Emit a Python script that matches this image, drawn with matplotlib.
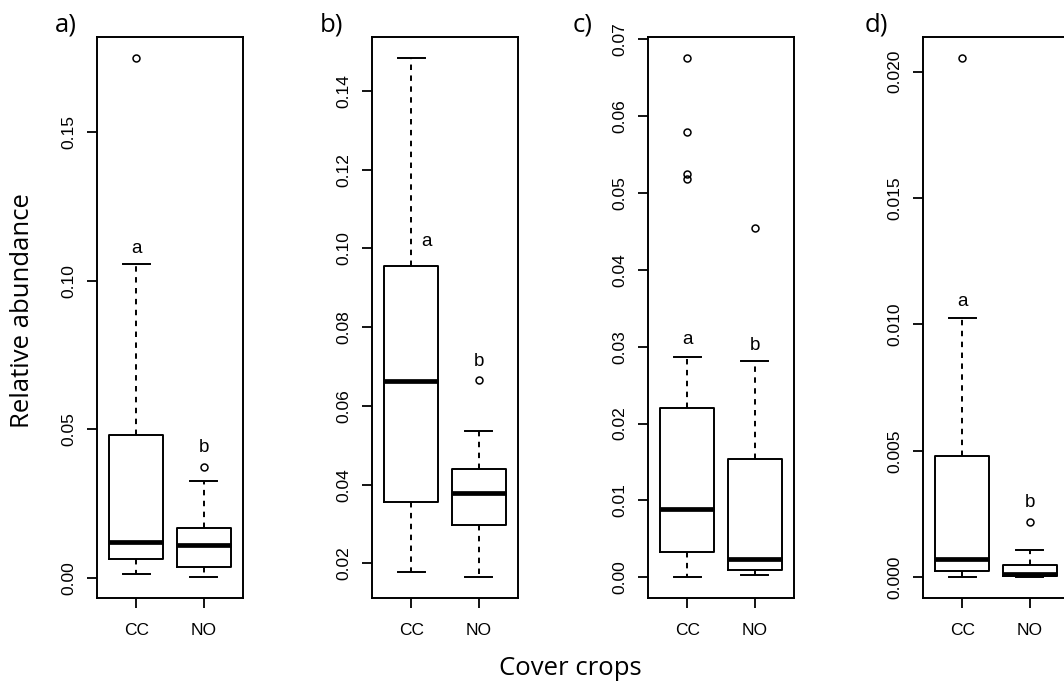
import matplotlib
matplotlib.use('Agg')
import matplotlib.pyplot as plt

plt.rcParams['font.family'] = ['Liberation Sans', 'DejaVu Sans']

groups = ['CC', 'NO']
panel_names = ['a)', 'b)', 'c)', 'd)']

# five number summaries: whislo, q1, med, q3, whishi
a_cc = [0.0015, 0.0065, 0.012, 0.048, 0.1057]
a_no = [0.0003, 0.0037, 0.011, 0.0169, 0.0326]
b_cc = [0.0178, 0.0357, 0.0662, 0.0956, 0.1484]
b_no = [0.0165, 0.0297, 0.038, 0.044, 0.0536]
c_cc = [0.0, 0.0033, 0.0089, 0.0220, 0.0287]
c_no = [0.0003, 0.0010, 0.0024, 0.0154, 0.0282]
d_cc = [0.0, 0.00026, 0.00074, 0.00478, 0.01024]
d_no = [0.0, 0.00003, 0.00012, 0.00047, 0.00109]

# outliers
a_cc_out = [0.175]
a_no_out = [0.0373]
b_cc_out = []
b_no_out = [0.0665]
c_cc_out = [0.0676, 0.0579, 0.0525, 0.0518]
c_no_out = [0.0454]
d_cc_out = [0.02055]
d_no_out = [0.0022]

# significance letters (x, y, letter)
a_letters = [(1, 0.111, 'a'), (2, 0.044, 'b')]
b_letters = [(1.23, 0.1018, 'a'), (2, 0.0712, 'b')]
c_letters = [(1, 0.031, 'a'), (2, 0.0302, 'b')]
d_letters = [(1, 0.0109, 'a'), (2, 0.00297, 'b')]

a_ticks = [0.00, 0.05, 0.10, 0.15]
b_ticks = [0.02, 0.04, 0.06, 0.08, 0.10, 0.12, 0.14]
c_ticks = [0.00, 0.01, 0.02, 0.03, 0.04, 0.05, 0.06, 0.07]
d_ticks = [0.000, 0.005, 0.010, 0.015, 0.020]
tick_fmt = ['%.2f', '%.2f', '%.2f', '%.3f']

panels = [
    (a_cc, a_no, a_cc_out, a_no_out, a_letters, a_ticks),
    (b_cc, b_no, b_cc_out, b_no_out, b_letters, b_ticks),
    (c_cc, c_no, c_cc_out, c_no_out, c_letters, c_ticks),
    (d_cc, d_no, d_cc_out, d_no_out, d_letters, d_ticks),
]

W, H = 1064, 685
fig = plt.figure(figsize=(W / 100, H / 100), dpi=100)

# axes frames in pixels (left edge), all 146 px wide, top 37 bottom 598
lefts = [97, 372, 648, 923]
label_x = [55, 320, 573, 865]

def make_stats(s, fl, name):
    return dict(whislo=s[0], q1=s[1], med=s[2], q3=s[3], whishi=s[4],
                fliers=fl, label=name)

for i, (cc, no, cc_out, no_out, letters, ticks) in enumerate(panels):
    ax = fig.add_axes([lefts[i] / W, (H - 598) / H, 146 / W, (598 - 37) / H])
    stats = [make_stats(cc, cc_out, groups[0]), make_stats(no, no_out, groups[1])]
    ax.bxp(stats, positions=[1, 2], widths=0.8, capwidths=0.4,
           boxprops=dict(color='black', linewidth=1.4),
           medianprops=dict(color='black', linewidth=3.4, solid_capstyle='butt'),
           whiskerprops=dict(color='black', linewidth=1.4, linestyle=(0, (2.8, 2.8))),
           capprops=dict(color='black', linewidth=1.4),
           flierprops=dict(marker='o', markerfacecolor='none', markeredgecolor='black',
                           markersize=5, markeredgewidth=1.1))

    # R style limits: 4% padding round the data
    allv = cc + no + cc_out + no_out
    lo, hi = min(allv), max(allv)
    pad = (hi - lo) * 0.04
    ax.set_ylim(lo - pad, hi + pad)
    ax.set_xlim(0.42, 2.58)

    ax.set_xticks([1, 2])
    ax.set_xticklabels(groups)
    ax.set_yticks(ticks)
    ax.set_yticklabels([tick_fmt[i] % t for t in ticks], rotation=90, va='center')
    ax.tick_params(axis='both', direction='out', length=7.2, width=1.3,
                   labelsize=12.5, color='black')
    ax.tick_params(axis='x', pad=11)
    ax.tick_params(axis='y', pad=8)
    for sp in ax.spines.values():
        sp.set_linewidth(1.4)

    for x, y, t in letters:
        ax.text(x, y, t, ha='center', va='center', fontsize=13.5)

    fig.text(label_x[i] / W, (H - 31) / H, panel_names[i], ha='left', va='baseline',
             fontsize=18.5, family='Open Sans')

fig.text(23 / W, (H - 311) / H, 'Relative abundance', rotation=90, ha='center',
         va='center', fontsize=18.5, family='Open Sans')
fig.text(570 / W, 10 / H, 'Cover crops', ha='center', va='baseline',
         fontsize=18.5, family='Open Sans')

fig.savefig('out.png', dpi=100)
